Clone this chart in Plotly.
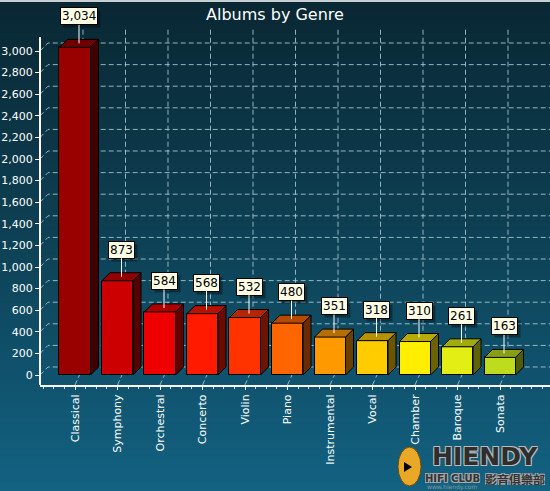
import plotly.graph_objects as go

# ---------------- data ----------------
genres = ["Classical", "Symphony", "Orchestral", "Concerto", "Violin", "Piano",
          "Instrumental", "Vocal", "Chamber", "Baroque", "Sonata"]
albums = [3034, 873, 584, 568, 532, 480, 351, 318, 310, 261, 163]
bar_colors = ["#990000", "#CC0000", "#EE0000", "#FF1A00", "#FF3300", "#FF6600",
              "#FF9900", "#FFCC00", "#FFEE00", "#E2EE14", "#BEDC1E"]
y_ticks = list(range(0, 3001, 200))

# ---------------- geometry / style ----------------
W, H = 550, 491
ML, MR, MT, MB = 40, 0, 28, 106
X_RANGE = [-0.8235, 11.176]
Y_RANGE = [-92.6, 3213]
DX = 0.188      # 3D depth along x (category units)
DY = 74         # 3D depth along y (value units)
BAR_W = 0.73
GRID = "rgba(170,205,215,0.85)"
FONT = "DejaVu Sans"

PW = W - ML - MR
PH = H - MT - MB


def px_x(p):
    return (p - ML) / PW


def px_y(p):
    return (H - MB - p) / PH


def shade(hexc, f):
    hexc = hexc.lstrip("#")
    r, g, b = (int(hexc[i:i + 2], 16) for i in (0, 2, 4))
    return "rgb(%d,%d,%d)" % (r * f, g * f, b * f)


def mix(c1, c2, t):
    return tuple(int(a + (b - a) * t) for a, b in zip(c1, c2))


xs = list(range(len(genres)))
fig = go.Figure()

shapes = []
# background gradient (whole figure)
top_c, mid_c, bot_c = (10, 40, 52), (14, 66, 86), (19, 98, 130)
N = 60
for k in range(N):
    t = k / (N - 1)
    c = mix(top_c, mid_c, t / 0.5) if t < 0.5 else mix(mid_c, bot_c, (t - 0.5) / 0.5)
    y0p = k * H / N
    y1p = (k + 1) * H / N + 1
    shapes.append(dict(type="rect", xref="paper", yref="paper", layer="below",
                       x0=px_x(0), x1=px_x(W), y0=px_y(y1p), y1=px_y(y0p),
                       fillcolor="rgb(%d,%d,%d)" % c, line=dict(width=0)))
shapes.append(dict(type="rect", xref="paper", yref="paper", layer="below",
                   x0=px_x(0), x1=px_x(W), y0=px_y(2), y1=px_y(0),
                   fillcolor="#C8D0D4", line=dict(width=0)))

# back-wall grid (horizontal) with left-wall diagonals
for v in y_ticks:
    shapes.append(dict(type="path", xref="x", yref="y", layer="below",
                       path="M %f,%f L %f,%f L %f,%f" % (X_RANGE[0], v, X_RANGE[0] + DX, v + DY,
                                                       X_RANGE[1], v + DY),
                       line=dict(color=GRID, width=1, dash="5px,3px")))
# vertical grid with floor diagonals
for i in xs:
    shapes.append(dict(type="path", xref="x", yref="y", layer="below",
                       path="M %f,%f L %f,%f L %f,%f" % (i, Y_RANGE[0], i + DX, DY,
                                                       i + DX, Y_RANGE[1]),
                       line=dict(color=GRID, width=1, dash="5px,3px")))
# y axis line
shapes.append(dict(type="line", xref="paper", yref="y", x0=0, x1=0,
                   y0=Y_RANGE[0], y1=3130, line=dict(color="white", width=2)))

# logo horn
shapes.append(dict(type="circle", xref="paper", yref="paper",
                   x0=px_x(398), x1=px_x(421), y0=px_y(486), y1=px_y(447),
                   fillcolor="#E9A826", line=dict(color="#6b4a10", width=1)))
shapes.append(dict(type="path", xref="paper", yref="paper",
                   path="M %f,%f L %f,%f L %f,%f Z" % (px_x(404), px_y(462), px_x(404), px_y(472),
                                                      px_x(412), px_y(467)),
                   fillcolor="black", line=dict(width=0)))

# 3D side and top faces
for i, v, c in zip(xs, albums, bar_colors):
    r = i + BAR_W / 2
    l = i - BAR_W / 2
    fig.add_trace(go.Scatter(
        x=[r, r + DX, r + DX, r, r], y=[0, DY, v + DY, v, 0],
        fill="toself", fillcolor=shade(c, 0.42), mode="lines",
        line=dict(color="black", width=1), hoverinfo="skip", showlegend=False))
    fig.add_trace(go.Scatter(
        x=[l, l + DX, r + DX, r, l], y=[v, v + DY, v + DY, v, v],
        fill="toself", fillcolor=shade(c, 0.72), mode="lines",
        line=dict(color="black", width=1), hoverinfo="skip", showlegend=False))

# front faces
fig.add_trace(go.Bar(x=xs, y=albums, width=BAR_W,
                     marker=dict(color=bar_colors, line=dict(color="black", width=1)),
                     showlegend=False, hovertemplate="%{text}: %{y:,}<extra></extra>",
                     text=genres, textposition="none"))

annotations = []
for i, v in zip(xs, albums):
    label = format(v, ",")
    # blank text of about the same width, used for the drop shadow box
    blank = "".join("&nbsp;" if ch == "," else "&nbsp;&nbsp;" for ch in label)
    common = dict(x=i + DX / 2, y=v + DY / 2, xref="x", yref="y",
                  showarrow=True, ax=0, ay=-27, arrowhead=0, standoff=0, startstandoff=0,
                  borderpad=1)
    annotations.append(dict(common, text=blank,
                            font=dict(family=FONT, size=12, color="rgba(0,0,0,0)"),
                            bgcolor="rgba(0,0,0,0.35)", bordercolor="rgba(0,0,0,0)",
                            borderwidth=1, arrowcolor="rgba(0,0,0,0)",
                            xshift=3, yshift=-3))
    annotations.append(dict(common, text=label,
                            font=dict(family=FONT, size=12, color="black"),
                            bgcolor="#FFFFE6", bordercolor="black", borderwidth=1,
                            arrowcolor="white", arrowwidth=1))

# logo text
logo_shadow = "1px 1px 0 #bbb, -1px -1px 0 #bbb, 1px -1px 0 #bbb, -1px 1px 0 #bbb"
sub_shadow = "1px 1px 0 #aaa, -1px -1px 0 #aaa, 1px -1px 0 #aaa, -1px 1px 0 #aaa"
annotations.append(dict(xref="paper", yref="paper", x=px_x(485), y=px_y(456),
                        xanchor="center", yanchor="middle", height=20,
                        text="<b>HIENDY</b>", showarrow=False,
                        font=dict(family=FONT, size=25, color="#2e2e2e", shadow=logo_shadow)))
annotations.append(dict(xref="paper", yref="paper", x=px_x(452), y=px_y(478),
                        xanchor="center", yanchor="middle", height=10,
                        text="<b>HIFI CLUB</b>", showarrow=False,
                        font=dict(family=FONT, size=10, color="#333", shadow=sub_shadow)))
annotations.append(dict(xref="paper", yref="paper", x=px_x(515), y=px_y(479),
                        xanchor="center", yanchor="middle", height=12,
                        text="<b>影音俱樂部</b>", showarrow=False,
                        font=dict(family="Noto Sans CJK TC", size=12, color="#333", shadow=sub_shadow)))
annotations.append(dict(xref="paper", yref="paper", x=px_x(452), y=px_y(487),
                        xanchor="center", yanchor="middle", height=7,
                        text="www.hiendy.com", showarrow=False,
                        font=dict(family=FONT, size=6, color="#8899a0")))

fig.update_layout(
    width=W, height=H,
    margin=dict(l=ML, r=MR, t=MT, b=MB, pad=0, autoexpand=False),
    paper_bgcolor="#0e3a4c",
    plot_bgcolor="rgba(0,0,0,0)",
    title=dict(text="Albums by Genre", x=0.5, xanchor="center", y=1 - 14 / H, yanchor="middle",
               font=dict(family=FONT, size=16, color="white")),
    shapes=shapes,
    annotations=annotations,
    bargap=0,
    xaxis=dict(range=X_RANGE, tickmode="array", tickvals=xs, ticktext=genres,
               tickangle=-90, showgrid=False, zeroline=False, automargin=False,
               showline=True, linecolor="white", linewidth=2,
               ticks="outside", ticklen=3, tickcolor="white", tickwidth=1,
               minor=dict(dtick=0.25, tick0=0, ticks="outside", ticklen=2,
                          tickcolor="rgba(255,255,255,0.8)", showgrid=False),
               tickfont=dict(family=FONT, size=11, color="white"), fixedrange=True),
    yaxis=dict(range=Y_RANGE, tickmode="array", tickvals=y_ticks, tickformat=",",
               showgrid=False, zeroline=False, showline=False, automargin=False,
               ticks="outside", ticklen=4, tickcolor="white", tickwidth=1,
               tickfont=dict(family=FONT, size=11, color="white"), fixedrange=True),
)

fig.write_html("out.html", config={"displayModeBar": False},
               post_script="document.body.style.margin='0';document.body.style.overflow='hidden';")
